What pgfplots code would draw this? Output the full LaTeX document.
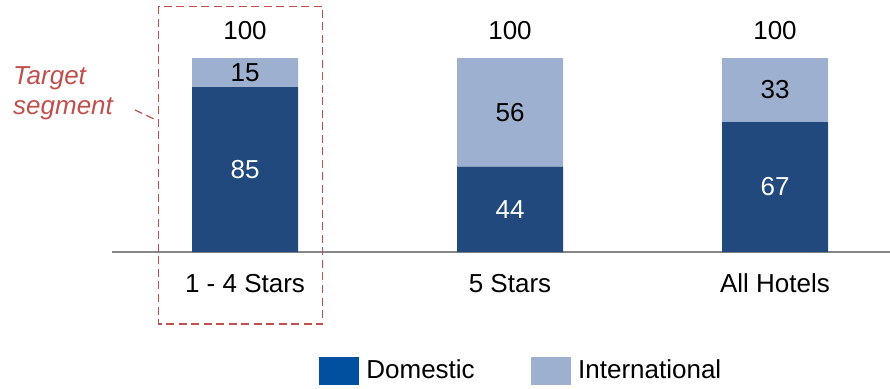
\documentclass[border=0pt]{standalone}
\usepackage{fontspec}
\setmainfont{Liberation Sans}
\usepackage{pgfplots}
\pgfplotsset{compat=1.18}
\definecolor{dom}{RGB}{33,73,125}
\definecolor{intl}{RGB}{157,176,207}
\definecolor{domleg}{RGB}{0,80,160}
\definecolor{tred}{RGB}{192,80,77}
\definecolor{axgray}{RGB}{134,134,134}
\pgfplotsset{frame/.style={
  at={(112pt,136pt)}, anchor=south west,
  scale only axis, width=778pt, height=252pt,
  xmin=-0.50189, xmax=2.43396, ymin=0, ymax=129.9, clip=false}}
\begin{document}
\fontsize{26}{31}\selectfont
\begin{tikzpicture}
\useasboundingbox (0,0) rectangle (890pt,388pt);
\begin{axis}[frame,
  axis x line=bottom, axis y line=none,
  x axis line style={-, draw=axgray, line width=1.5pt},
  xtick={0,1,2}, xticklabels={1 - 4 Stars, 5 Stars, All Hotels},
  major tick length=0pt,
  xticklabel style={anchor=base, yshift=-40pt},
  ybar stacked, bar width=106pt,
  legend style={draw=none, fill=none, inner sep=0pt, outer sep=0pt,
    at={(axis cs:0.2792,-61.3)}, anchor=west,
    /tikz/every odd column/.append style={column sep=6pt},
    /tikz/every even column/.append style={column sep=54pt}},
  legend columns=2, legend cell align=left,
]
\addplot[fill=dom, draw=none, forget plot] coordinates {(0,85) (1,44) (2,67)};
\addplot[fill=intl, draw=none, forget plot] coordinates {(0,15) (1,56) (2,33)};
\addlegendimage{legend image code/.code={\fill[domleg] (0pt,-13.5pt) rectangle (39pt,13.5pt);}}
\addlegendentry{Domestic}
\addlegendimage{legend image code/.code={\fill[intl] (0pt,-13.5pt) rectangle (39pt,13.5pt);}}
\addlegendentry{International}
\end{axis}
\begin{axis}[frame, hide axis]
\addplot[draw=none, mark=none,
  point meta=explicit symbolic, nodes near coords,
  every node near coord/.append style={anchor=center, text=white}]
  coordinates {(0,42.5)[85] (1,22)[44] (2,33.5)[67]};
\addplot[draw=none, mark=none,
  point meta=explicit symbolic, nodes near coords,
  every node near coord/.append style={anchor=center, text=black}]
  coordinates {(0,92.5)[15] (1,72)[56] (2,83.5)[33]};
\addplot[draw=none, mark=none,
  point meta=explicit symbolic, nodes near coords,
  every node near coord/.append style={anchor=center, text=black}]
  coordinates {(0,113.9)[100] (1,113.9)[100] (2,113.9)[100]};
\end{axis}
\draw[tred, line width=1.4pt, dash pattern=on 8pt off 4.5pt] (158.5pt,381.5pt) rectangle (322.5pt,64pt);
\draw[tred, line width=1.2pt, dash pattern=on 8pt off 4.5pt] (135pt,278pt) -- (154pt,269pt);
\node[anchor=base west, inner sep=0pt, text=tred, font=\itshape] at (13pt,303pt) {Target};
\node[anchor=base west, inner sep=0pt, text=tred, font=\itshape] at (13pt,273pt) {segment};
\end{tikzpicture}
\end{document}
